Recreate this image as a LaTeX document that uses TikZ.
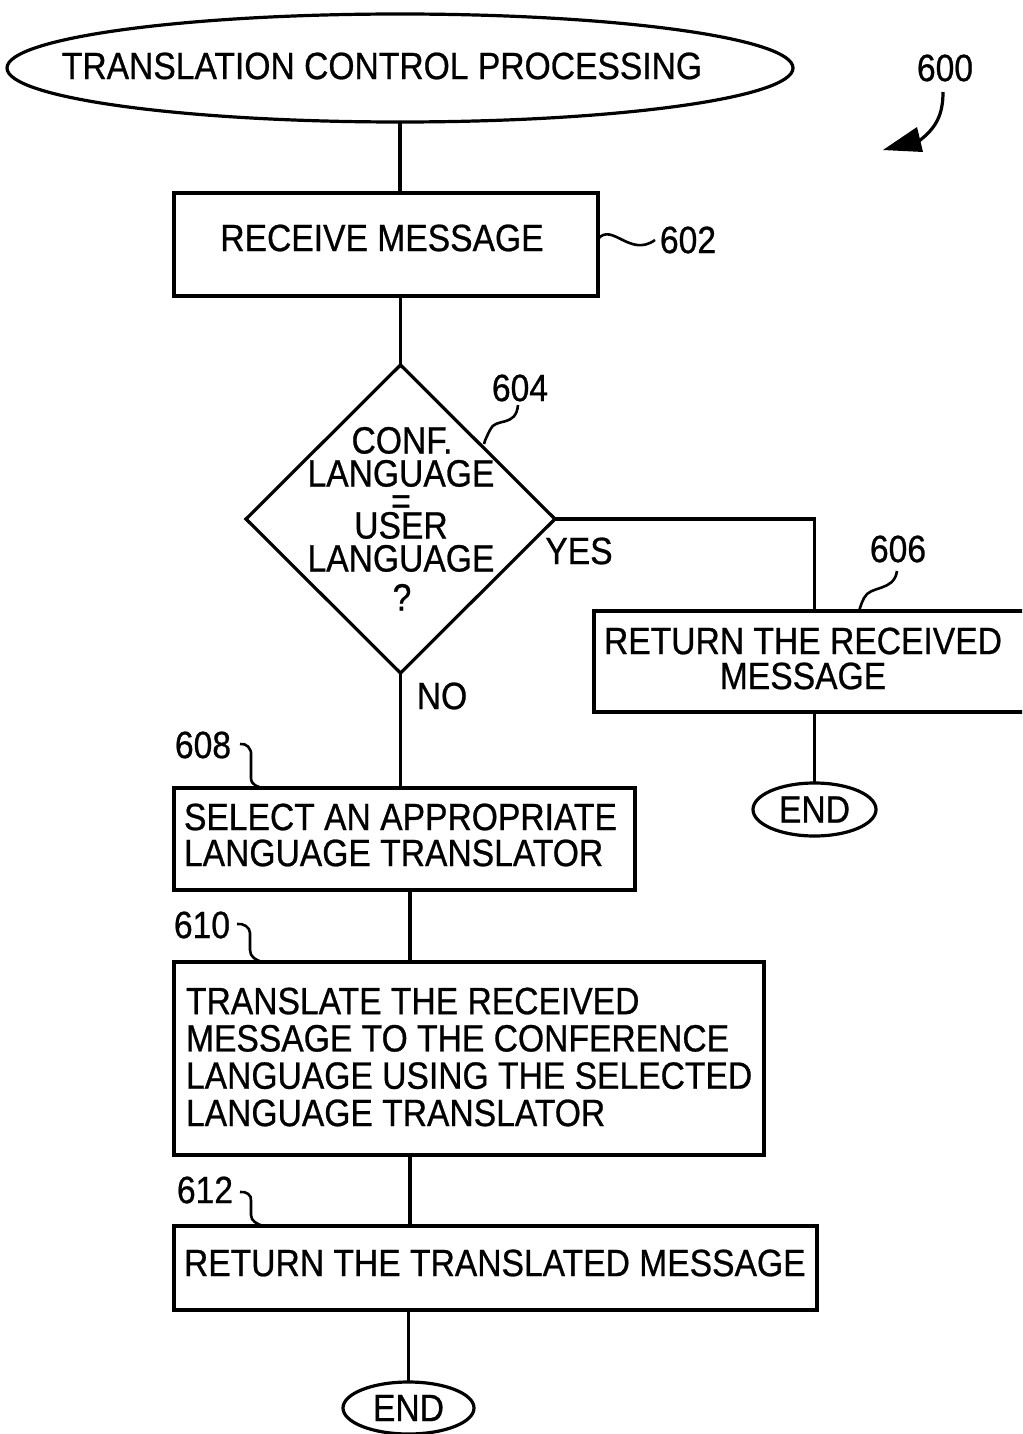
\documentclass[tikz,border=0pt]{standalone}
\usepackage{fontspec}
\setmainfont[FakeStretch=0.885,FakeBold=0.7]{Liberation Sans}
\usetikzlibrary{shapes.geometric}
\begin{document}
\begin{tikzpicture}[x=1pt,y=-1pt,line width=3.2pt,
  every node/.style={inner sep=0pt,outer sep=0pt},
  txt/.style={font=\fontsize{38}{36}\selectfont},
  txtb/.style={font=\fontsize{38}{37.3}\selectfont},
  txtc/.style={font=\fontsize{38}{35}\selectfont},
  endnode/.style={draw,ellipse,txt},
  squig/.style={line width=2.6pt},
  procbox/.style={draw,rectangle}]
\useasboundingbox (0,0) rectangle (1022,1434);
\clip (0,0) rectangle (1022,1434);
% start
\node[draw,ellipse,minimum width=786pt,minimum height=108pt] (start) at (400,68) {};
\node[txt] (starttxt) at (382,66) {TRANSLATION CONTROL PROCESSING};
% 600
\node[txt] (n600) at (945,68) {600};
\coordinate (a600s) at (943,92);
\coordinate (a600e) at (919,141);
\draw (a600s) .. controls (943,115) and (936,128) .. (a600e);
\fill (883,150) -- (917,127) -- (923,152) -- cycle;
% 602
\node[procbox,minimum width=424pt,minimum height=103pt] (b602) at (386,244.5) {};
\node[txt] (t602) at (382,238) {RECEIVE MESSAGE};
\node[txt] (n602) at (688,240) {602};
\draw[squig] (b602.east |- 0,239) .. controls (612,222) and (630,258) .. (655,240);
% 604
\node[draw,diamond,minimum width=309pt,minimum height=308pt] (d604) at (400.5,519) {};
\node[txt,anchor=base] (q1) at (402,453.5) {CONF.};
\node[txt,anchor=base] (q2) at (401,486.5) {LANGUAGE};
\node[txt,anchor=base] (q3) at (401,514) {=};
\node[txt,anchor=base] (q4) at (401,538.5) {USER};
\node[txt,anchor=base] (q5) at (401,571.5) {LANGUAGE};
\node[txt,anchor=base] (q6) at (402,610.5) {?};
\node[txt] (n604) at (520,388) {604};
\draw[squig] (518,405) .. controls (516,428) and (495,417) .. (490,430) .. controls (487,436) and (485,440) .. (484,444);
\node[txt] (yes) at (579,551) {YES};
\node[txt] (no) at (442,696) {NO};
% 606
\node[procbox,minimum width=436pt,minimum height=101pt] (b606) at (812,661.5) {};
\node[txtc,align=center] (t606) at (803,658.5) {RETURN THE RECEIVED\\MESSAGE};
\node[txt] (n606) at (898,549) {606};
\draw[squig] (897,571) .. controls (894,592) and (870,585) .. (864,598) .. controls (861,604) and (860,608) .. (859,611);
\node[endnode,minimum width=123pt,minimum height=53pt] (end1) at (814.5,809.5) {END};
% 608
\node[procbox,minimum width=461pt,minimum height=102pt] (b608) at (404.5,839) {};
\node[txt,align=left,anchor=west] (t608) at (184,835) {SELECT AN APPROPRIATE\\LANGUAGE TRANSLATOR};
\node[txt] (n608) at (203,745) {608};
\draw[squig] (240,744) .. controls (246,743) and (252,748) .. (251,756) -- (251,778) .. controls (251,785) and (258,787) .. (263,788);
% 610
\node[procbox,minimum width=590pt,minimum height=193pt] (b610) at (469,1058.5) {};
\node[txtb,align=left,anchor=west] (t610) at (186,1057) {TRANSLATE THE RECEIVED\\MESSAGE TO THE CONFERENCE\\LANGUAGE USING THE SELECTED\\LANGUAGE TRANSLATOR};
\node[txt] (n610) at (202,925) {610};
\draw[squig] (237,924) .. controls (243,923) and (250,927) .. (250,933) -- (250,950) .. controls (250,957) and (256,960) .. (262,962);
% 612
\node[procbox,minimum width=643pt,minimum height=84pt] (b612) at (495.5,1268) {};
\node[txt,anchor=west] (t612) at (184,1263) {RETURN THE TRANSLATED MESSAGE};
\node[txt] (n612) at (205,1190) {612};
\draw[squig] (240,1192) .. controls (246,1191) and (252,1195) .. (251,1201) -- (251,1215) .. controls (251,1221) and (257,1224) .. (263,1226);
\node[endnode,minimum width=131pt,minimum height=52pt] (end2) at (408.5,1408) {END};
% connectors
\coordinate (xa) at (410,0);
\draw (start.south) -- (start.south |- b602.north);
\draw (d604.north |- b602.south) -- (d604.north);
\draw (d604.east) -| (end1.north |- b606.north);
\draw (end1.north |- b606.south) -- (end1.north);
\draw (d604.south) -- (d604.south |- b608.north);
\draw (xa |- b608.south) -- (xa |- b610.north);
\draw (xa |- b610.south) -- (xa |- b612.north);
\draw (end2.north |- b612.south) -- (end2.north);
\end{tikzpicture}
\end{document}
